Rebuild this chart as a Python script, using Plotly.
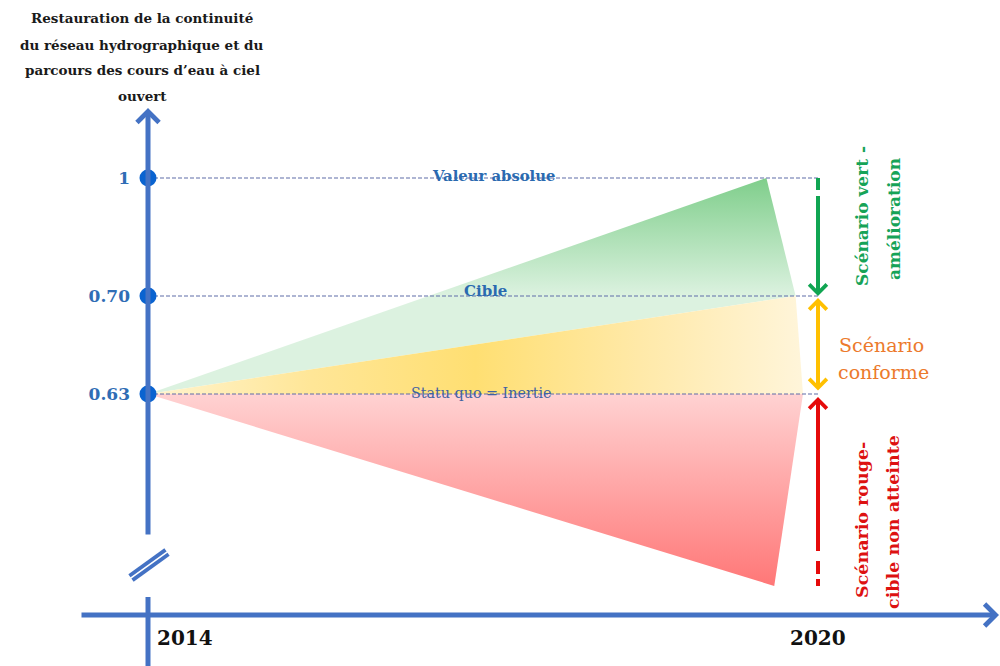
import numpy as np
import plotly.graph_objects as go

# ---------------- data ----------------
years = [2014, 2020]
level_values = [1.0, 0.70, 0.63]
level_ticks = ["1", "0.70", "0.63"]
level_names = ["Valeur absolue", "Cible", "Statu quo = Inertie"]

# range of values reached in 2020 by each scenario (top, bottom)
green_range = [1.0, 0.70]
yellow_range = [0.70, 0.63]
red_range = [0.63, 0.50]

title_lines = [
    "Restauration de la continuité",
    "du réseau hydrographique et du",
    "parcours des cours d’eau à ciel",
    "ouvert",
]

# ---------------- geometry helpers ----------------
W, H = 1000, 666
PX_PER_YEAR = 670 / 6
X_MIN = years[0] - 148 / PX_PER_YEAR
X_MAX = X_MIN + W / PX_PER_YEAR

# schematic (non-proportional) vertical scale: value -> height above bottom edge (px)
SCALE_VALUES = [0.50, 0.63, 0.70, 1.0]
SCALE_HEIGHTS = [80, 272, 370, 488]


def yv(v):
    return float(np.interp(v, SCALE_VALUES, SCALE_HEIGHTS))


def ypx(py):
    return H - py


def xpx(px):
    return X_MIN + px / PX_PER_YEAR


apex_x, apex_y = years[0], yv(level_values[2])
FAN_RADIUS = 655  # px


def fan_end(v):
    dy = yv(v) - apex_y
    dx = np.sqrt(FAN_RADIUS ** 2 - dy ** 2)
    return apex_x + dx / PX_PER_YEAR, yv(v)


def wedge(rng):
    x1, y1 = fan_end(rng[0])
    x2, y2 = fan_end(rng[1])
    return [apex_x, x1, x2, apex_x], [apex_y, y1, y2, apex_y]


SERIF = "DejaVu Serif"
AXIS_BLUE = "#4472c4"
GREEN = "#10a552"
YELLOW = "#ffc000"
RED = "#e50a0a"

fig = go.Figure()

# ---------------- scenario fans ----------------
gx, gy = wedge(green_range)
fig.add_trace(go.Scatter(
    x=gx, y=gy, mode="none", fill="toself", hoverinfo="skip",
    fillgradient=dict(type="vertical", start=yv(green_range[1]), stop=yv(green_range[0]),
                      colorscale=[[0, "#dcf2e0"], [1, "#7fce8b"]]),
))
yx, yy = wedge(yellow_range)
fig.add_trace(go.Scatter(
    x=yx, y=yy, mode="none", fill="toself", hoverinfo="skip",
    fillgradient=dict(type="horizontal", start=years[0], stop=fan_end(yellow_range[1])[0],
                      colorscale=[[0, "#fff4cf"], [0.25, "#ffe697"], [0.5, "#ffdf72"],
                                  [0.75, "#ffe9a8"], [1, "#fff5da"]]),
))
rx, ry = wedge(red_range)
fig.add_trace(go.Scatter(
    x=rx, y=ry, mode="none", fill="toself", hoverinfo="skip",
    fillgradient=dict(type="vertical", start=yv(red_range[1]), stop=yv(red_range[0]),
                      colorscale=[[0, "#ff7777"], [1, "#ffd2d2"]]),
))

# ---------------- dashed reference levels ----------------
for v in level_values:
    fig.add_trace(go.Scatter(
        x=years, y=[yv(v), yv(v)], mode="lines", hoverinfo="skip",
        line=dict(color="#5f6ca8", width=1.2, dash="4px,2px"),
    ))

# ---------------- scenario arrows at 2020 ----------------
fig.add_trace(go.Scatter(
    x=[years[1], years[1]], y=[yv(green_range[0]), yv(green_range[1]) + 10],
    mode="lines", hoverinfo="skip",
    line=dict(color=GREEN, width=4, dash="12px,6px,400px"),
))
fig.add_trace(go.Scatter(
    x=[years[1], years[1]], y=[yv(red_range[1]), yv(red_range[0]) - 10],
    mode="lines", hoverinfo="skip",
    line=dict(color=RED, width=4, dash="7px,5px,13px,10px,500px"),
))

# level markers on the vertical axis
fig.add_trace(go.Scatter(
    x=[years[0]] * len(level_values), y=[yv(v) for v in level_values],
    mode="markers", hoverinfo="skip",
    marker=dict(size=17, color="#0a63d0"),
))

annotations = []


def arrow(x, y, ax, ay, color, width, both=False, standoff=0):
    a = dict(x=x, y=y, ax=ax, ay=ay, xref="x", yref="y", axref="x", ayref="y",
             text="", showarrow=True, arrowhead=4, arrowsize=0.85, arrowwidth=width,
             arrowcolor=color, standoff=standoff)
    if both:
        a.update(arrowside="end+start", startarrowhead=4, startarrowsize=0.85,
                 startstandoff=standoff)
    annotations.append(a)


arrow(years[1], yv(green_range[1]), years[1], yv(green_range[1]) + 40, GREEN, 4)
arrow(years[1], yv(yellow_range[0]), years[1], yv(yellow_range[1]), YELLOW, 4,
      both=True, standoff=2)
arrow(years[1], yv(red_range[0]), years[1], yv(red_range[0]) - 40, RED, 4, standoff=3)

# axes with arrowheads
arrow(years[0], ypx(108), years[0], ypx(536), AXIS_BLUE, 5)
arrow(xpx(999), ypx(615), xpx(80), ypx(615), AXIS_BLUE, 5)

shapes = [
    dict(type="line", xref="x", yref="y", x0=years[0], x1=years[0],
         y0=ypx(597), y1=ypx(670), line=dict(color=AXIS_BLUE, width=5)),
    # axis break mark
    dict(type="line", xref="x", yref="y", x0=xpx(131), y0=ypx(578), x1=xpx(167), y1=ypx(552),
         line=dict(color=AXIS_BLUE, width=9)),
    dict(type="line", xref="x", yref="y", x0=xpx(130), y0=ypx(578.7), x1=xpx(168), y1=ypx(551.3),
         line=dict(color="white", width=1.6)),
]


def label(text, x, y, size, color, angle=0, xanchor="center", xref="x", yref="y"):
    annotations.append(dict(text=text, x=x, y=y, xref=xref, yref=yref, showarrow=False,
                            textangle=angle, xanchor=xanchor, yanchor="middle",
                            font=dict(family=SERIF, size=size, color=color)))


# title of the vertical axis
for line, py in zip(title_lines, [18, 45, 70, 96]):
    label(f"<b>{line}</b>", xpx(142), ypx(py), 13.5, "#1a1a1a")

# level names along the dashed lines
label(f"<b>{level_names[0]}</b>", xpx(493), yv(level_values[0]) + 3, 14.8, "#2a6ab0")
label(f"<b>{level_names[1]}</b>", xpx(485), yv(level_values[1]) + 5, 15, "#2a6ab0")
label(level_names[2], xpx(481), yv(level_values[2]) + 1, 14.3, "#3f62a3")

# years
label(f"<b>{years[0]}</b>", xpx(185), ypx(638), 20, "#111111")
label(f"<b>{years[1]}</b>", xpx(818), ypx(638), 20, "#111111")

# scenario captions
label("<b>Scénario vert -</b>", xpx(862), ypx(216), 17, "#16a357", angle=-90)
label("<b>amélioration</b>", xpx(894), ypx(219), 17, "#16a357", angle=-90)
label("Scénario", xpx(881), ypx(345), 19, "#ec7a2c")
label("conforme", xpx(883), ypx(372), 19, "#ec7a2c")
label("<b>Scénario rouge-</b>", xpx(862), ypx(520), 17.5, "#dd1111", angle=-90)
label("<b>cible non atteinte</b>", xpx(893), ypx(522), 17.5, "#dd1111", angle=-90)

fig.update_layout(
    width=W, height=H,
    margin=dict(l=0, r=0, t=0, b=0),
    paper_bgcolor="white", plot_bgcolor="white",
    showlegend=False,
    xaxis=dict(range=[X_MIN, X_MAX], visible=False, domain=[0, 1]),
    yaxis=dict(range=[0, H], domain=[0, 1], anchor="free", position=0.148,
               showline=False, showgrid=False, zeroline=False, ticks="",
               tickvals=[yv(v) for v in level_values],
               ticktext=[f"<b>{t}</b>" for t in level_ticks],
               tickfont=dict(family=SERIF, size=17, color="#2f6db5"),
               ticklabelstandoff=18),
    shapes=shapes,
    annotations=annotations,
)

fig.write_html("out.html")
